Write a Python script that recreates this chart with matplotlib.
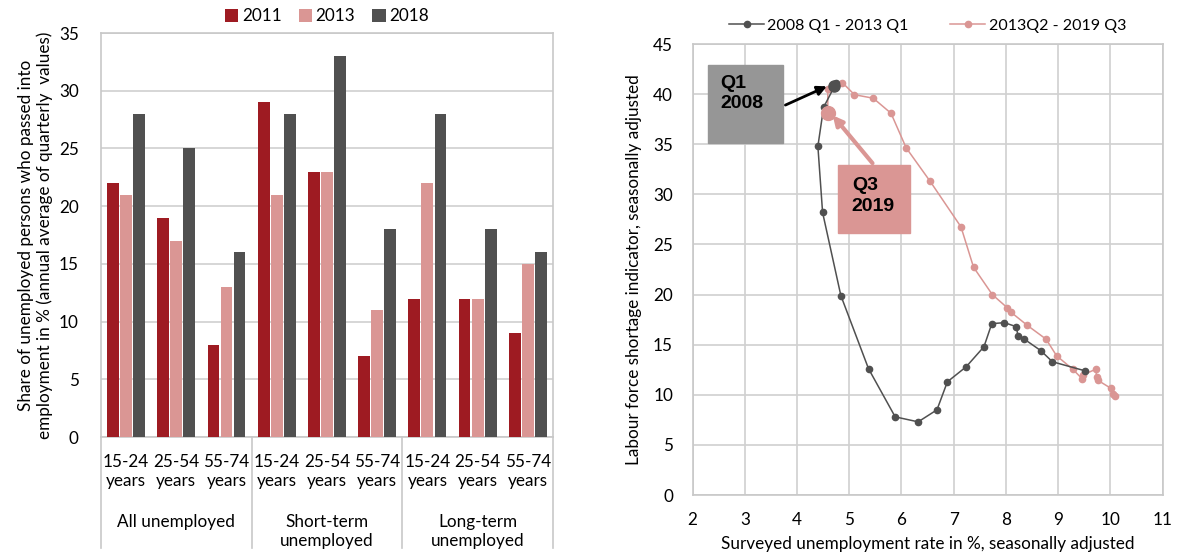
import numpy as np
import matplotlib.pyplot as plt
import matplotlib.transforms as mtransforms
from matplotlib.patches import Rectangle

plt.rcParams['font.family'] = ['Lato', 'DejaVu Sans']
plt.rcParams['font.size'] = 12

# left chart data
years = ['2011', '2013', '2018']
ages = ['15-24\nyears', '25-54\nyears', '55-74\nyears'] * 3
groups = ['All unemployed', 'Short-term\nunemployed', 'Long-term\nunemployed']
v2011 = [22, 19, 8, 29, 23, 7, 12, 12, 9]
v2013 = [21, 17, 13, 21, 23, 11, 22, 12, 15]
v2018 = [28, 25, 16, 28, 33, 18, 28, 18, 16]

# right chart data
black_x = [4.70, 4.75, 4.51, 4.40, 4.49, 4.84, 5.37, 5.88, 6.32, 6.68, 6.88,
           7.24, 7.58, 7.73, 7.97, 8.20, 8.23, 8.34, 8.67, 8.89, 9.51]
black_y = [40.8, 41.1, 38.7, 34.8, 28.2, 19.9, 12.6, 7.8, 7.3, 8.5, 11.3,
           12.8, 14.8, 17.1, 17.2, 16.8, 15.9, 15.6, 14.4, 13.3, 12.4]
pink_x = [10.08, 10.06, 10.01, 9.76, 9.74, 9.72, 9.48, 9.46, 9.28, 8.97, 8.77,
          8.41, 8.10, 8.03, 7.74, 7.38, 7.14, 6.55, 6.09, 5.80, 5.46, 5.10,
          4.87, 4.59, 4.59]
pink_y = [9.93, 10.05, 10.65, 11.45, 11.76, 12.55, 12.0, 11.6, 12.55, 13.9,
          15.55, 16.93, 18.23, 18.67, 20.0, 22.74, 26.76, 31.3, 34.65, 38.1,
          39.6, 39.95, 41.15, 40.55, 38.15]

red = '#9E1B22'
pink = '#DA9694'
dark = '#505050'
gridc = '#D0D0D0'
fs = 12.3

fig = plt.figure(figsize=(11.81, 5.56), dpi=100)

# ---- left: bars
ax = fig.add_axes([0.0855, 0.214, 0.3827, 0.7266])
x = np.arange(len(ages))
w = 0.235
ax.bar(x - 0.26, v2011, w, color=red, label=years[0], zorder=3)
ax.bar(x, v2013, w, color=pink, label=years[1], zorder=3)
ax.bar(x + 0.26, v2018, w, color=dark, label=years[2], zorder=3)
ax.set_xlim(-0.5, 8.5)
ax.set_ylim(0, 35)
ax.set_yticks(range(0, 36, 5))
ax.yaxis.grid(True, color=gridc, lw=1.2)
ax.set_axisbelow(True)
ax.set_xticks(x)
ax.set_xticklabels(ages, linespacing=1.25)
ax.tick_params(axis='both', length=0, labelsize=fs)
ax.tick_params(axis='x', pad=12)
ax.tick_params(axis='y', pad=16)
for s in ax.spines.values():
    s.set_color('#C8C8C8')
    s.set_linewidth(1.2)
ax.set_ylabel('Share of unemployed persons who passed into\n'
              'employment in % (annual average of quarterly  values)',
              fontsize=fs, linespacing=1.2, labelpad=4)
trans = mtransforms.blended_transform_factory(ax.transData, ax.transAxes)
for b in [-0.5, 2.5, 5.5, 8.5]:
    ax.plot([b, b], [0, -0.275], color='#C8C8C8', lw=1.2,
            transform=trans, clip_on=False)
for i, g in enumerate(groups):
    ax.text(3 * i + 1, -0.19, g, transform=trans, ha='center', va='top',
            fontsize=fs, linespacing=1.25)
ax.legend(loc='lower center', bbox_to_anchor=(0.5, 1.0), ncol=3,
          frameon=False, handlelength=0.8, handleheight=0.8,
          handletextpad=0.2, columnspacing=1.0, fontsize=fs,
          borderaxespad=0.1)

# ---- right: scatter path
ax2 = fig.add_axes([0.5864, 0.1097, 0.398, 0.811])
ax2.plot(black_x, black_y, '-o', color=dark, ms=4.5, lw=1.1,
         label='2008 Q1 - 2013 Q1', zorder=4)
ax2.plot(pink_x, pink_y, '-o', color=pink, ms=4.5, lw=1.1,
         label='2013Q2 - 2019 Q3', zorder=3)
ax2.plot(black_x[0], black_y[0], 'o', color=dark, ms=8, zorder=5)
ax2.plot(pink_x[-1], pink_y[-1], 'o', color=pink, ms=10, zorder=5)
ax2.set_xlim(2, 11)
ax2.set_ylim(0, 45)
ax2.set_xticks(range(2, 12))
ax2.set_yticks(range(0, 46, 5))
ax2.grid(True, color=gridc, lw=1.2)
ax2.set_axisbelow(True)
ax2.tick_params(axis='both', length=0, labelsize=fs)
ax2.tick_params(axis='x', pad=12)
ax2.tick_params(axis='y', pad=14)
for s in ax2.spines.values():
    s.set_color('#C8C8C8')
    s.set_linewidth(1.2)
ax2.set_xlabel('Surveyed unemployment rate in %, seasonally adjusted',
               fontsize=fs, labelpad=6)
ax2.set_ylabel('Labour force shortage indicator, seasonally adjusted',
               fontsize=fs, labelpad=8)
ax2.legend(loc='lower center', bbox_to_anchor=(0.5, 1.0), ncol=2,
           frameon=False, fontsize=11.5, handlelength=2.2,
           handletextpad=0.2, columnspacing=2.6, borderaxespad=0.3)

# annotation boxes
ax2.add_patch(Rectangle((2.30, 35.1), 1.43, 7.8, color='#969696', zorder=6))
ax2.text(2.53, 41.9, 'Q1\n2008', family='Liberation Sans', weight='bold',
         fontsize=14, va='top', ha='left', linespacing=1.25, zorder=7)
ax2.annotate('', xy=(4.62, 40.9), xytext=(3.73, 38.8),
             arrowprops=dict(arrowstyle='-|>', color='black', lw=2,
                             mutation_scale=14), zorder=7)
ax2.add_patch(Rectangle((4.79, 26.1), 1.38, 6.8, color=pink, zorder=6))
ax2.text(5.05, 31.7, 'Q3\n2019', family='Liberation Sans', weight='bold',
         fontsize=14, va='top', ha='left', linespacing=1.25, zorder=7)
ax2.annotate('', xy=(4.65, 38.1), xytext=(5.48, 32.9),
             arrowprops=dict(arrowstyle='-|>', color=pink, lw=3,
                             mutation_scale=14), zorder=7)

fig.savefig('out.png', dpi=100)
